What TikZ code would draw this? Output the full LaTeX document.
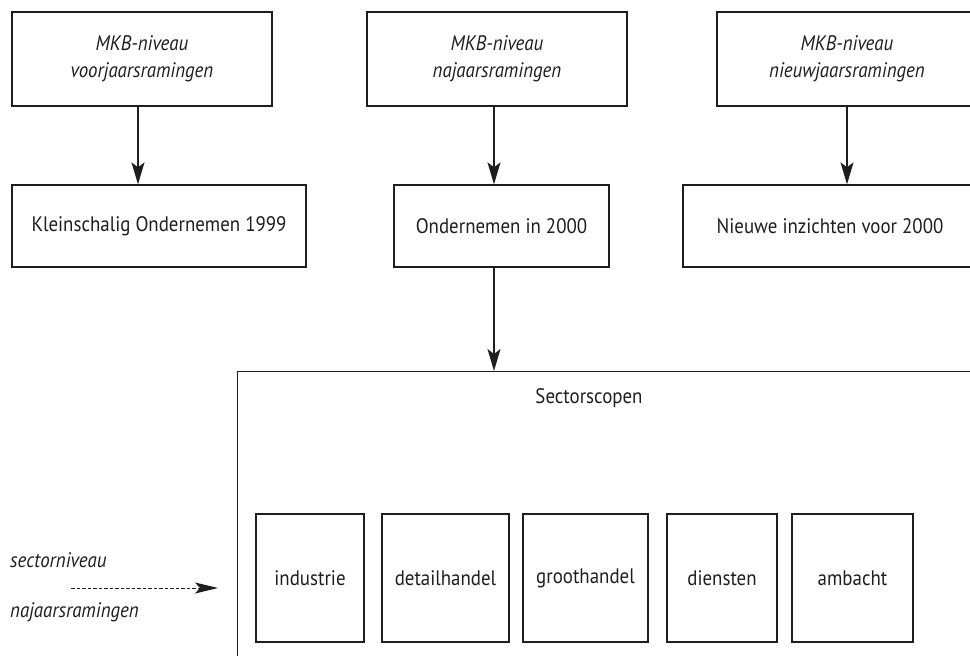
\documentclass[tikz,border=0pt]{standalone}
\usepackage{fontspec}
\setmainfont[FakeStretch=0.9]{PT Sans}
\usetikzlibrary{arrows.meta}
\definecolor{ink}{HTML}{1E1E1E}
\tikzset{
  box/.style={draw=ink, line width=1.3pt, rectangle, inner sep=0pt, align=center, text=ink,
    font=\fontsize{21}{27}\selectfont},
  lbl/.style={inner sep=0pt, text=ink, font=\fontsize{21}{27}\selectfont\itshape, anchor=west},
  arr/.style={draw=ink, line width=1.3pt, -{Stealth[length=22pt,width=13pt,inset=5pt]}},
  darr/.style={draw=ink, line width=1pt, dash pattern=on 3.5pt off 2pt, -{Stealth[length=23pt,width=11pt,inset=5pt]}},
}
\begin{document}
\begin{tikzpicture}[x=1pt,y=-1pt]
\useasboundingbox (0,0) rectangle (970,656);
\clip (0,0) rectangle (970,656);
% top row
\node[box, minimum width=260pt, minimum height=94pt] (t1) at (142,59) {\itshape MKB-niveau\\\itshape voorjaarsramingen};
\node[box, minimum width=260pt, minimum height=94pt] (t2) at (497,59) {\itshape MKB-niveau\\\itshape najaarsramingen};
\node[box, minimum width=260pt, minimum height=94pt] (t3) at (847,59) {\itshape MKB-niveau\\\itshape nieuwjaarsramingen};
% second row
\node[box, minimum width=294pt, minimum height=82pt] (k1) at (159,226) {Kleinschalig Ondernemen 1999};
\node[box, minimum width=215pt, minimum height=82pt] (k2) at (501.5,226) {Ondernemen in 2000};
\node[box, minimum width=294pt, minimum height=82pt] (k3) at (830,226) {Nieuwe inzichten voor 2000};
% big box
\node[box, minimum width=800pt, minimum height=400pt, anchor=north west] (big) at (237,371) {};
\node[inner sep=0pt, text=ink, font=\fontsize{21}{27}\selectfont] (sc) at (589,398) {Sectorscopen};
% sectors
\node[box, minimum width=108pt, minimum height=128pt] (s1) at (310,578) {industrie};
\node[box, minimum width=127pt, minimum height=128pt] (s2) at (445.5,578) {detailhandel};
\node[box, minimum width=125pt, minimum height=128pt] (s3) at (585.5,578) {groothandel};
\node[box, minimum width=110pt, minimum height=128pt] (s4) at (722,578) {diensten};
\node[box, minimum width=121pt, minimum height=128pt] (s5) at (852.5,578) {ambacht};
% left labels
\node[lbl] (l1) at (10,560) {sectorniveau};
\node[lbl] (l2) at (10,612) {najaarsramingen};
\coordinate (d0) at (71,588);
\coordinate (d1) at (218,588);
% arrows
\draw[arr] ([xshift=-4pt]t1.south) -- ([xshift=-4pt]t1.south |- k1.north);
\draw[arr] ([xshift=-3pt]t2.south) -- ([xshift=-3pt]t2.south |- k2.north);
\draw[arr] (t3.south) -- (t3.south |- k3.north);
\draw[arr] ([xshift=-7.5pt]k2.south) -- ([xshift=-7.5pt]k2.south |- big.north);
\draw[darr] (d0) -- (d1);
\end{tikzpicture}
\end{document}
